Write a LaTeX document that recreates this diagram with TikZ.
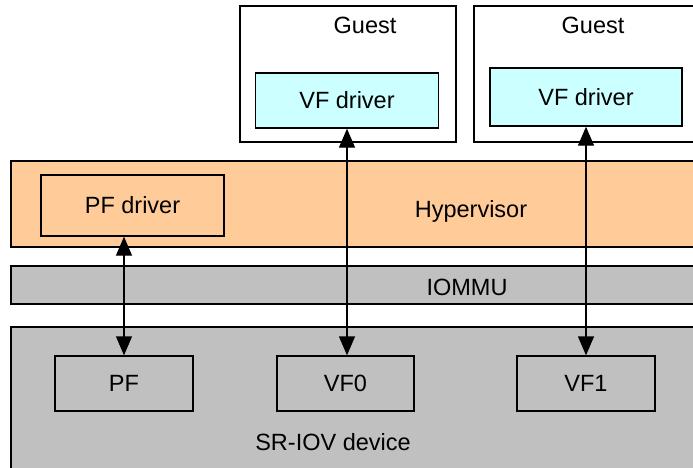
\documentclass[tikz,border=0pt]{standalone}
\usepackage{fontspec}
\setmainfont{Liberation Sans}
\usetikzlibrary{arrows.meta}
\definecolor{peach}{HTML}{FFCC99}
\definecolor{band}{HTML}{C0C0C0}
\definecolor{drv}{HTML}{CCFFFF}
\tikzset{
  txt/.style={font=\fontsize{23.5}{27}\selectfont},
  box/.style={draw=black, line width=1.4pt, rectangle, inner sep=0pt, txt},
  lbl/.style={inner sep=0pt, txt},
  link/.style={line width=1.4pt, {Triangle[width=16pt,length=19pt]}-{Triangle[width=16pt,length=19pt]}}
}
\begin{document}
\begin{tikzpicture}[x=1pt,y=-1pt]
\useasboundingbox (0,0) rectangle (693,467);
\clip (0,0) rectangle (693,467);
% guests
\node[box, fill=white, minimum width=216pt, minimum height=136pt] (g1) at (348,74) {};
\node[lbl] (g1t) at (365,25) {Guest};
\node[box, fill=drv, minimum width=183pt, minimum height=55pt] (vfd1) at (347,100.5) {VF driver};
\node[box, fill=white, minimum width=236pt, minimum height=136pt] (g2) at (592,74) {};
\node[lbl] (g2t) at (593,25) {Guest};
\node[box, fill=drv, minimum width=192pt, minimum height=58pt] (vfd2) at (586,97) {VF driver};
% hypervisor layer
\node[box, fill=peach, minimum width=699pt, minimum height=86pt] (hyp) at (360.5,204) {};
\node[lbl] (hypt) at (471,211) {Hypervisor};
\node[box, fill=peach, minimum width=183pt, minimum height=61pt] (pfd) at (132.5,205.5) {PF driver};
% IOMMU
\node[box, fill=band, minimum width=699pt, minimum height=38pt] (iommu) at (360.5,285) {};
\node[lbl] (iommut) at (467,287) {IOMMU};
% device
\node[box, fill=band, minimum width=699pt, minimum height=153pt] (dev) at (360.5,403.5) {};
\node[lbl] (devt) at (333,442) {SR-IOV device};
\node[box, fill=band, minimum width=138pt, minimum height=55pt] (pf) at (124,383.5) {PF};
\node[box, fill=band, minimum width=137pt, minimum height=55pt] (vf0) at (345.5,383.5) {VF0};
\node[box, fill=band, minimum width=138pt, minimum height=55pt] (vf1) at (586,383.5) {VF1};
% links
\draw[link] (pf.north |- pfd.south) -- (pf.north);
\draw[link] (vfd1.south) -- (vfd1.south |- vf0.north);
\draw[link] (vfd2.south) -- (vfd2.south |- vf1.north);
\end{tikzpicture}
\end{document}
